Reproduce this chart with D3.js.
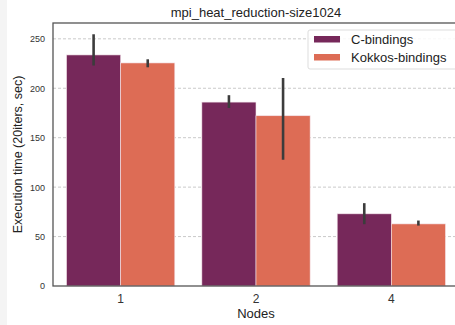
<!DOCTYPE html>
<html>
  <head>
    <script src="https://cdn.jsdelivr.net/npm/d3@7/dist/d3.min.js" charset="utf-8"></script>
    <style type="text/css">
      body {
        margin: 0;
        font-family: "Liberation Sans", Arial, sans-serif;
        background: #fff;
      }
    </style>
  </head>
  <body>
    <script type="text/javascript">
      var w = 455,
          h = 325,
          margin = { top: 23, right: -4, bottom: 39, left: 53 };

      // data
      var nodes = ["1", "2", "4"];
      var seriesNames = ["C-bindings", "Kokkos-bindings"];
      var cBindings = [233.7, 186, 73];
      var cLow = [223, 180, 62.5];
      var cHigh = [254.6, 193, 83.8];
      var kokkosBindings = [225.6, 172.2, 62.8];
      var kLow = [221.2, 127.7, 61.1];
      var kHigh = [229.3, 210.4, 66.2];
      var yTicks = [0, 50, 100, 150, 200, 250];
      var colors = ["#76285a", "#dd6c55"];

      var series = [
        { name: seriesNames[0], values: cBindings, low: cLow, high: cHigh },
        { name: seriesNames[1], values: kokkosBindings, low: kLow, high: kHigh }
      ];

      var svg = d3.select("body").append("svg")
          .attr("width", w)
          .attr("height", h);

      svg.append("rect").attr("width", w).attr("height", h).attr("fill", "#fff");
      svg.append("rect").attr("width", 7).attr("height", h).attr("fill", "#f4f4f4");

      var x = d3.scaleBand()
          .domain(nodes)
          .range([margin.left, w - margin.right]);

      // bars take 80% of each band, like seaborn
      var inner = d3.scaleBand()
          .domain(seriesNames)
          .range([0, x.bandwidth()])
          .paddingOuter(0.25);

      var y = d3.scaleLinear()
          .domain([0, 266])
          .range([h - margin.bottom, margin.top]);

      // grid
      svg.append("g")
        .selectAll("line")
        .data(yTicks.slice(1))
        .enter().append("line")
        .attr("x1", margin.left)
        .attr("x2", w)
        .attr("y1", function (d) { return y(d); })
        .attr("y2", function (d) { return y(d); })
        .attr("stroke", "#bdbdbd")
        .attr("stroke-width", 0.8)
        .attr("stroke-dasharray", "3,2");

      // bars
      series.forEach(function (s, si) {
        svg.append("g")
          .selectAll("rect")
          .data(s.values)
          .enter().append("rect")
          .attr("x", function (d, i) { return x(nodes[i]) + inner(s.name); })
          .attr("width", inner.bandwidth())
          .attr("y", function (d) { return y(d); })
          .attr("height", function (d) { return y(0) - y(d); })
          .attr("fill", colors[si])
          .attr("stroke", "#f3e3ea")
          .attr("stroke-width", 0.6);
      });

      // error bars
      series.forEach(function (s) {
        svg.append("g")
          .selectAll("line")
          .data(s.values)
          .enter().append("line")
          .attr("x1", function (d, i) { return x(nodes[i]) + inner(s.name) + inner.bandwidth() / 2; })
          .attr("x2", function (d, i) { return x(nodes[i]) + inner(s.name) + inner.bandwidth() / 2; })
          .attr("y1", function (d, i) { return y(s.low[i]); })
          .attr("y2", function (d, i) { return y(s.high[i]); })
          .attr("stroke", "#3c3c3c")
          .attr("stroke-width", 2.6);
      });

      // axes
      var yAxis = d3.axisLeft(y).tickValues(yTicks).tickSize(0).tickPadding(8);
      var gy = svg.append("g")
        .attr("transform", "translate(" + margin.left + ",0)")
        .call(yAxis);
      gy.select(".domain").remove();
      gy.selectAll("text").attr("font-size", 9).attr("fill", "#333")
        .attr("font-family", "Liberation Sans, Arial, sans-serif");

      var xAxis = d3.axisBottom(x).tickSize(0).tickPadding(8);
      var gx = svg.append("g")
        .attr("transform", "translate(0," + (h - margin.bottom) + ")")
        .call(xAxis);
      gx.select(".domain").remove();
      gx.selectAll("text").attr("font-size", 12).attr("fill", "#333")
        .attr("font-family", "Liberation Sans, Arial, sans-serif");

      // frame
      svg.append("rect")
        .attr("x", margin.left)
        .attr("y", margin.top)
        .attr("width", w - margin.right - margin.left)
        .attr("height", h - margin.bottom - margin.top)
        .attr("fill", "none")
        .attr("stroke", "#555")
        .attr("stroke-width", 1.3);

      // title and labels
      svg.append("text")
        .attr("x", (margin.left + w - margin.right) / 2)
        .attr("y", 17)
        .attr("text-anchor", "middle")
        .attr("font-size", 13)
        .attr("fill", "#222")
        .text("mpi_heat_reduction-size1024");

      svg.append("text")
        .attr("x", (margin.left + w - margin.right) / 2)
        .attr("y", 318)
        .attr("text-anchor", "middle")
        .attr("font-size", 13)
        .attr("fill", "#222")
        .text("Nodes");

      svg.append("text")
        .attr("transform", "translate(22," + (y(133)) + ") rotate(-90)")
        .attr("text-anchor", "middle")
        .attr("font-size", 12.5)
        .attr("fill", "#222")
        .text("Execution time (20iters, sec)");

      // legend
      var legend = svg.append("g").attr("transform", "translate(308,30)");
      legend.append("rect")
        .attr("width", 155)
        .attr("height", 39)
        .attr("rx", 2)
        .attr("fill", "#fff")
        .attr("fill-opacity", 0.85)
        .attr("stroke", "#ddd");
      series.forEach(function (s, si) {
        legend.append("rect")
          .attr("x", 6)
          .attr("y", 6 + si * 18)
          .attr("width", 26)
          .attr("height", 6.5)
          .attr("fill", colors[si]);
        legend.append("text")
          .attr("x", 43)
          .attr("y", 13.5 + si * 18)
          .attr("font-size", 13)
          .attr("fill", "#222")
          .text(s.name);
      });
    </script>
  </body>
</html>
